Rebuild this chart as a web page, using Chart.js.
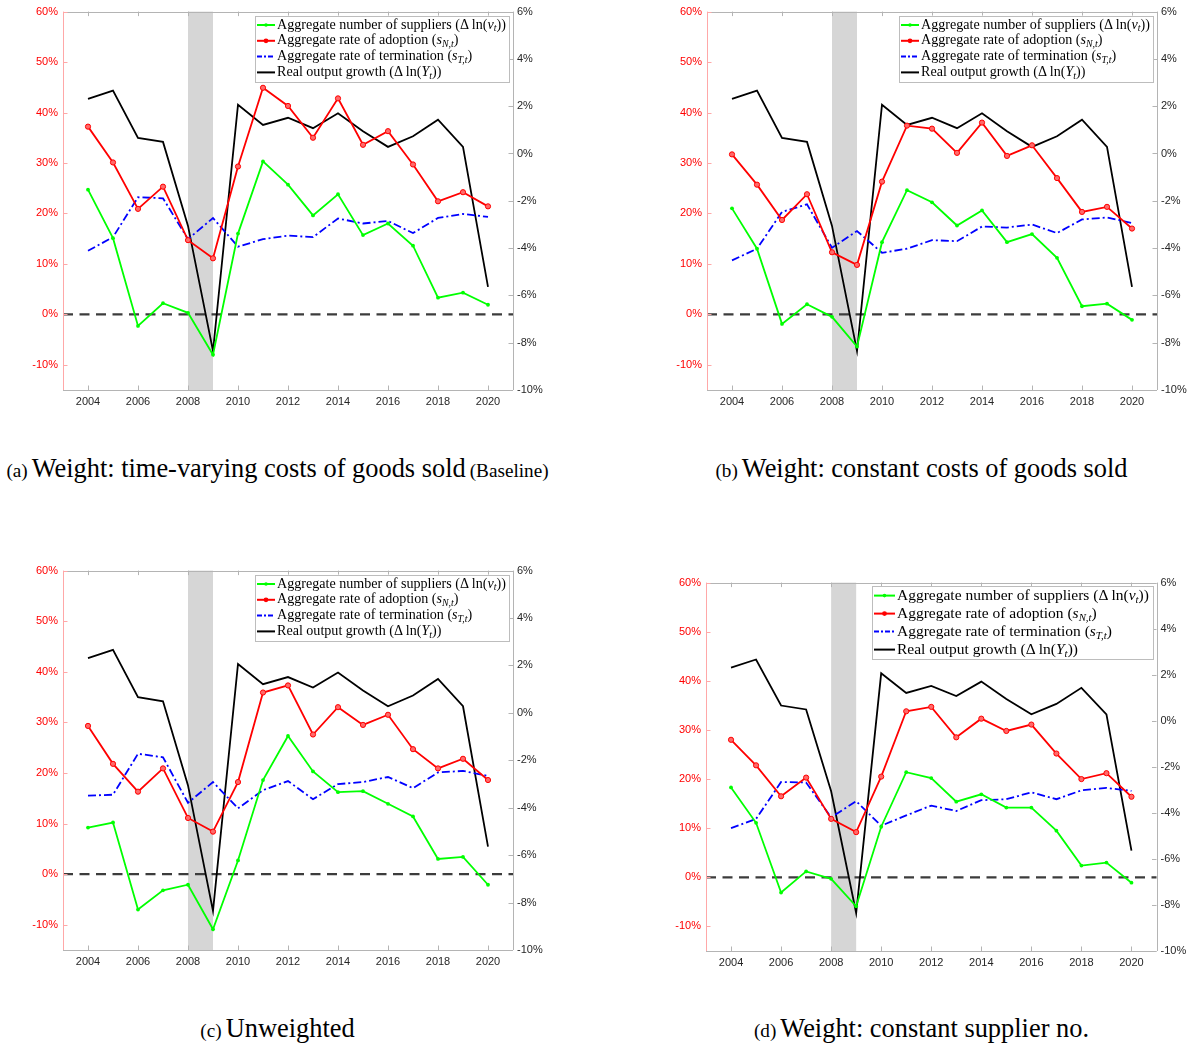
<!DOCTYPE html>
<html><head><meta charset="utf-8">
<script src="https://cdn.jsdelivr.net/npm/chart.js@4.4.1/dist/chart.umd.min.js"></script>
<style>
html,body{margin:0;padding:0;background:#fff;}
#wrap{position:relative;width:1191px;height:1045px;overflow:hidden;background:#fff;}
.panel{position:absolute;}
.cap{position:absolute;width:555px;text-align:center;font-family:"Liberation Serif","Times New Roman",serif;color:#000;white-space:nowrap;line-height:30px;height:30px;}
.cap .s{font-size:19.2px}
.cap .m{font-size:26.4px}
</style></head><body>
<div id="wrap">
<div class="panel" id="pa" style="left:0px;top:0px;width:560px;height:425px"><canvas id="ca"></canvas></div>
<div class="panel" id="pb" style="left:644px;top:0px;width:547px;height:425px"><canvas id="cb"></canvas></div>
<div class="panel" id="pc" style="left:0px;top:559px;width:560px;height:420px"><canvas id="cc"></canvas></div>
<div class="panel" id="pd" style="left:644px;top:571px;width:547px;height:420px"><canvas id="cd"></canvas></div>
<div class="cap" style="left:0px;top:453px"><span class="s">(a)</span> <span class="m">Weight: time-varying costs of goods sold</span> <span class="s">(Baseline)</span></div>
<div class="cap" style="left:644px;top:453px"><span class="s">(b)</span> <span class="m">Weight: constant costs of goods sold</span></div>
<div class="cap" style="left:0px;top:1013px"><span class="s">(c)</span> <span class="m">Unweighted</span></div>
<div class="cap" style="left:644px;top:1013px"><span class="s">(d)</span> <span class="m">Weight: constant supplier no.</span></div>
</div>
<script>
// ---------------- DATA ----------------
const years = [2004,2005,2006,2007,2008,2009,2010,2011,2012,2013,2014,2015,2016,2017,2018,2019,2020];
const xTickYears = [2004,2006,2008,2010,2012,2014,2016,2018,2020];
const leftTickValues = [-10,0,10,20,30,40,50,60];
const rightTickValues = [-10,-8,-6,-4,-2,0,2,4,6];
const recession = [2008,2009];

// real output growth (right axis, %), same in all panels
const outputGrowth = [2.31,2.66,0.66,0.49,-3.06,-8.35,2.06,1.21,1.51,1.07,1.70,0.94,0.28,0.73,1.43,0.28,-5.64];

// (a) time-varying COGS weights
const suppliersA   = [24.7,15.1,-2.3,2.2,0.3,-8.0,16.0,30.3,25.7,19.6,23.8,15.7,18.0,13.6,3.3,4.3,1.9];
const adoptionA    = [37.2,30.1,20.9,25.3,14.7,11.1,29.3,44.9,41.3,35.0,42.8,33.6,36.3,29.7,22.4,24.2,21.4];
const terminationA = [12.6,15.3,23.2,23.0,14.9,19.1,13.4,14.9,15.6,15.3,19.0,18.0,18.5,16.1,19.1,19.9,19.3];

// (b) constant COGS weights
const suppliersB   = [21.0,13.0,-1.9,2.0,-0.5,-6.4,14.3,24.6,22.2,17.6,20.6,14.3,15.9,11.2,1.6,2.1,-1.1];
const adoptionB    = [31.7,25.7,18.7,23.8,12.3,9.8,26.3,37.4,36.8,32.0,38.0,31.4,33.5,27.0,20.3,21.3,17.0];
const terminationB = [10.7,13.0,20.3,21.8,13.2,16.5,12.2,13.0,14.7,14.5,17.4,17.2,17.8,16.1,18.8,19.2,18.1];

// (c) unweighted
const suppliersC   = [9.2,10.2,-7.0,-3.2,-2.1,-10.9,2.7,18.6,27.3,20.3,16.2,16.4,13.9,11.4,3.0,3.4,-2.1];
const adoptionC    = [29.3,21.8,16.3,20.9,11.1,8.4,18.2,35.9,37.3,27.6,33.0,29.5,31.5,24.7,20.9,22.8,18.6];
const terminationC = [15.5,15.7,23.8,23.1,14.1,18.2,13.0,16.6,18.4,14.8,17.8,18.2,19.2,17.0,20.1,20.4,19.4];

// (d) constant supplier number weights
const suppliersD   = [18.3,11.1,-3.1,1.2,-0.3,-5.9,10.3,21.4,20.2,15.4,16.9,14.2,14.2,9.5,2.4,3.0,-1.1];
const adoptionD    = [28.0,22.8,16.5,20.3,11.9,9.2,20.5,33.8,34.7,28.5,32.3,29.8,31.1,25.2,20.0,21.2,16.4];
const terminationD = [10.0,11.9,19.4,19.3,12.2,15.5,10.5,12.6,14.6,13.5,15.7,15.9,17.3,15.9,17.7,18.2,17.6];

// legend labels: [text, style] style 0 upright, 1 italic, 2 italic subscript
const labelSuppliers   = [['Aggregate number of suppliers (',0],['\u0394',0],['\u2009ln(',0],['v',1],['t',2],['))',0]];
const labelAdoption    = [['Aggregate rate of adoption (',0],['s',1],['N,t',2],[')',0]];
const labelTermination = [['Aggregate rate of termination (',0],['s',1],['T,t',2],[')',0]];
const labelOutput      = [['Real output growth (',0],['\u0394',0],['\u2009ln(',0],['Y',1],['t',2],['))',0]];

// ---------------- DRAWING ----------------
const SERIF = '"Liberation Serif","Times New Roman",serif';
const SANS = '"Liberation Sans",Arial,Helvetica,sans-serif';

function segFont(st, fs){
  const size = st===2 ? fs*0.7 : fs;
  return (st ? 'italic ' : '') + size + 'px ' + SERIF;
}
function segsWidth(ctx, segs, fs){
  let w=0; for(const [t,st] of segs){ ctx.font=segFont(st,fs); w+=ctx.measureText(t).width; } return w;
}
function drawSegs(ctx, segs, x, y, fs){
  for(const [t,st] of segs){
    ctx.font=segFont(st,fs);
    ctx.fillText(t, x, y + (st===2 ? fs*0.27 : 0));
    x += ctx.measureText(t).width;
  }
}
function hline(ctx,x1,x2,y){ctx.beginPath();ctx.moveTo(x1,y);ctx.lineTo(x2,y);ctx.stroke();}
function vline(ctx,x,y1,y2){ctx.beginPath();ctx.moveTo(x,y1);ctx.lineTo(x,y2);ctx.stroke();}
const px = v => Math.round(v)+0.5;

const backdrop = {
  id:'backdrop',
  beforeDatasetsDraw(chart){
    const {ctx, chartArea:a, scales} = chart;
    ctx.save();
    const x1 = scales.x.getPixelForValue(recession[0]);
    const x2 = scales.x.getPixelForValue(recession[1]);
    ctx.fillStyle = '#d6d6d6';
    ctx.fillRect(x1, a.top, x2-x1, a.bottom-a.top);
    const y0 = scales.yL.getPixelForValue(0);
    ctx.strokeStyle = '#3c3c3c'; ctx.lineWidth = 2.2; ctx.setLineDash([10,6.5]);
    hline(ctx, a.left, a.right, y0);
    ctx.restore();
  }
};

const frame = {
  id:'frame',
  afterDatasetsDraw(chart){
    const {ctx, chartArea:a, scales} = chart;
    ctx.save(); ctx.lineWidth = 1; ctx.setLineDash([]);
    ctx.strokeStyle = '#b4b4b4';
    hline(ctx, a.left, a.right, px(a.top));
    hline(ctx, a.left, a.right, px(a.bottom));
    vline(ctx, px(a.right), a.top, a.bottom);
    for(const v of xTickYears){
      const x = px(scales.x.getPixelForValue(v));
      vline(ctx, x, a.bottom, a.bottom-4.5);
      vline(ctx, x, a.top, a.top+4.5);
    }
    for(const v of rightTickValues){
      const y = px(scales.yR.getPixelForValue(v));
      hline(ctx, a.right, a.right-4.5, y);
    }
    ctx.strokeStyle = '#ffa8a8';
    vline(ctx, px(a.left), a.top, a.bottom);
    for(const v of leftTickValues){
      const y = px(scales.yL.getPixelForValue(v));
      hline(ctx, a.left, a.left+4.5, y);
    }
    ctx.restore();
  }
};

const boxLegend = {
  id:'boxLegend',
  afterDraw(chart, args, opts){
    const {ctx, chartArea:a} = chart;
    const items = opts.items;
    ctx.save();
    let w10 = 0; for(const it of items) w10 = Math.max(w10, segsWidth(ctx, it.label, 10));
    const fs = 10*opts.textWidth/w10;
    const boxW = opts.padL + opts.sample + opts.gap + opts.textWidth + opts.padR;
    const boxR = a.right - opts.offR, boxT = a.top + opts.offT;
    const boxL = boxR - boxW;
    const boxH = opts.rowH*items.length + opts.padV*2;
    ctx.fillStyle = '#fff'; ctx.fillRect(boxL, boxT, boxW, boxH);
    ctx.strokeStyle = '#bdbdbd'; ctx.lineWidth = 1;
    ctx.strokeRect(px(boxL), px(boxT), Math.round(boxW), Math.round(boxH));
    ctx.textBaseline = 'middle'; ctx.textAlign = 'left';
    items.forEach((it,i)=>{
      const y = boxT + opts.padV + opts.rowH*(i+0.5);
      const sx1 = boxL + opts.padL, sx2 = sx1 + opts.sample;
      ctx.strokeStyle = it.color; ctx.lineWidth = 2;
      ctx.setLineDash(it.dash || []);
      hline(ctx, sx1, sx2, y);
      ctx.setLineDash([]);
      if(it.marker){
        ctx.fillStyle = it.color;
        ctx.beginPath(); ctx.arc((sx1+sx2)/2, y, it.marker, 0, Math.PI*2); ctx.fill();
      }
      ctx.fillStyle = '#000';
      drawSegs(ctx, it.label, sx2 + opts.gap, y, fs);
    });
    ctx.restore();
  }
};

const GREEN='#00ff00', RED='#ff0000', BLUE='#0000ff', BLACK='#000000';
const dashDot = [8,3,2,3];

function makeChart(id, W, H, area, sup, adop, term, legendOpts){
  const pts = arr => years.map((y,i)=>({x:y, y:arr[i]}));
  const tickFont = {family:SANS, size:11};
  return new Chart(document.getElementById(id), {
    type:'line',
    data:{datasets:[
      {data:pts(sup), yAxisID:'yL', borderColor:GREEN, backgroundColor:GREEN, borderWidth:1.8,
       pointRadius:1.9, pointBorderWidth:0, pointBackgroundColor:GREEN, tension:0},
      {data:pts(adop), yAxisID:'yL', borderColor:RED, backgroundColor:RED, borderWidth:1.8,
       pointRadius:2.6, pointBorderWidth:1, pointBorderColor:RED, pointBackgroundColor:'#ff6a6a', tension:0},
      {data:pts(term), yAxisID:'yL', borderColor:BLUE, borderWidth:1.8, borderDash:dashDot,
       pointRadius:0, tension:0},
      {data:pts(outputGrowth), yAxisID:'yR', borderColor:BLACK, borderWidth:1.8,
       pointRadius:0, tension:0}
    ]},
    options:{
      responsive:true, maintainAspectRatio:false, animation:false,
      layout:{padding:{top:area.top, left:0, right:0, bottom:0}},
      plugins:{legend:{display:false}, tooltip:{enabled:false}, boxLegend:legendOpts},
      scales:{
        x:{type:'linear', position:'bottom', min:2003, max:2021,
           grid:{display:false, drawTicks:false}, border:{display:false},
           ticks:{font:tickFont, color:'#262626', padding:5, autoSkip:false, maxRotation:0, callback:v=>String(v)},
           afterBuildTicks:s=>{s.ticks = xTickYears.map(v=>({value:v}));},
           afterFit:s=>{s.height = H-area.bottom;}},
        yL:{type:'linear', position:'left', min:-15, max:60,
           grid:{display:false, drawTicks:false}, border:{display:false},
           ticks:{font:tickFont, color:'#ff0000', padding:5, callback:v=>v+'%'},
           afterBuildTicks:s=>{s.ticks = leftTickValues.map(v=>({value:v}));},
           afterFit:s=>{s.width = area.left;}},
        yR:{type:'linear', position:'right', min:-10, max:6,
           grid:{display:false, drawTicks:false}, border:{display:false},
           ticks:{font:tickFont, color:'#262626', padding:4, callback:v=>v+'%'},
           afterBuildTicks:s=>{s.ticks = rightTickValues.map(v=>({value:v}));},
           afterFit:s=>{s.width = W-area.right;}}
      }
    },
    plugins:[backdrop, frame, boxLegend]
  });
}

const legendItems = [
  {label:labelSuppliers, color:GREEN, marker:1.8},
  {label:labelAdoption, color:RED, marker:2.4},
  {label:labelTermination, color:BLUE, dash:[5,2,2,2]},
  {label:labelOutput, color:BLACK}
];
const legendSmall = {items:legendItems, textWidth:229, padL:2, sample:18, gap:2, padR:3, padV:1.5, rowH:15.8, offR:4, offT:4};
const legendLarge = {items:legendItems, textWidth:252, padL:2, sample:21, gap:2, padR:4, padV:0.5, rowH:18, offR:3.5, offT:3.5};

makeChart('ca', 560, 425, {left:63, right:513, top:11, bottom:390}, suppliersA, adoptionA, terminationA, legendSmall);
makeChart('cb', 547, 425, {left:63, right:513, top:11, bottom:390}, suppliersB, adoptionB, terminationB, legendSmall);
makeChart('cc', 560, 420, {left:63, right:513, top:11, bottom:391}, suppliersC, adoptionC, terminationC, legendSmall);
makeChart('cd', 547, 420, {left:62, right:512.5, top:11.5, bottom:380}, suppliersD, adoptionD, terminationD, legendLarge);
</script>
</body></html>
